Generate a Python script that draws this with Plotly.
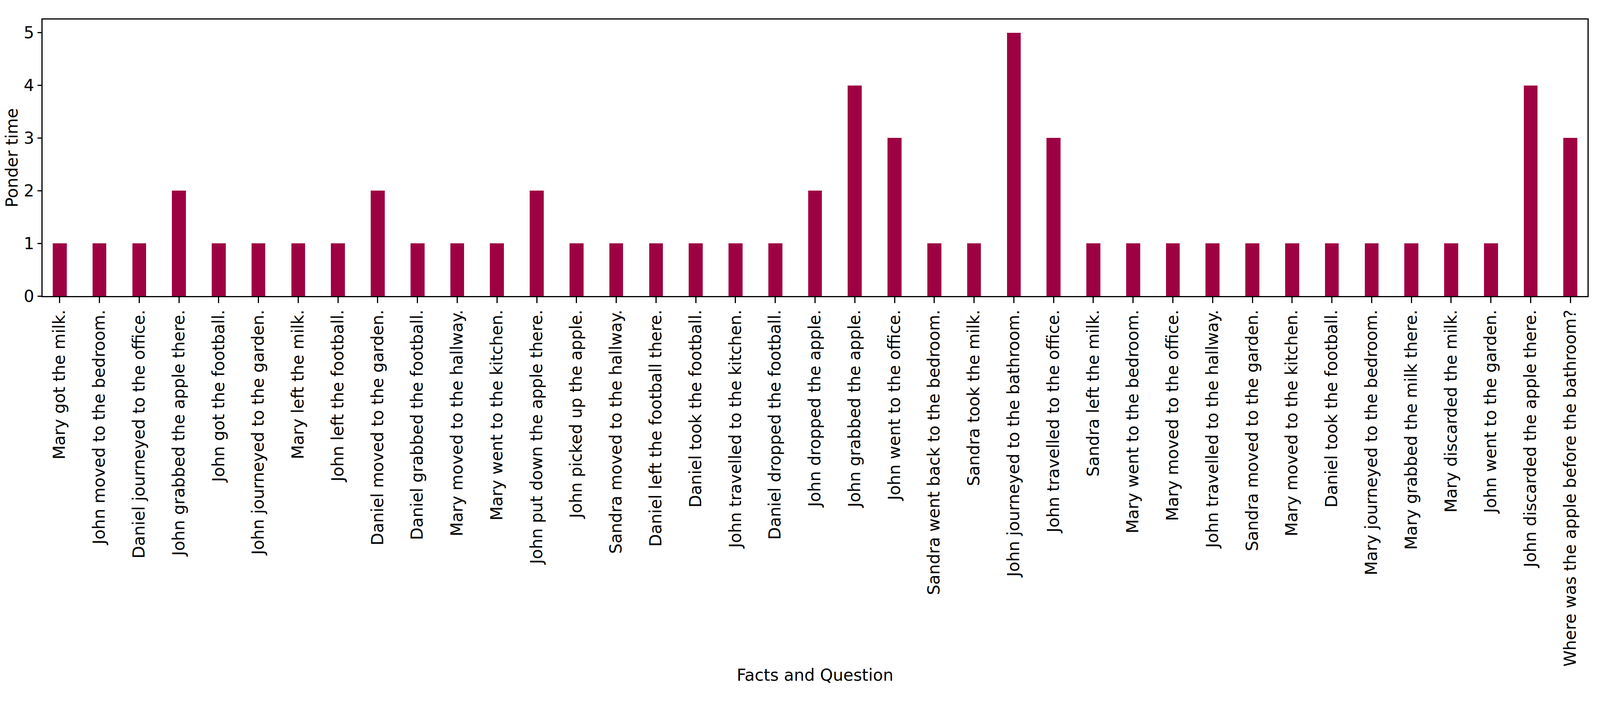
import plotly.graph_objects as go

facts = [
    "Mary got the milk.",
    "John moved to the bedroom.",
    "Daniel journeyed to the office.",
    "John grabbed the apple there.",
    "John got the football.",
    "John journeyed to the garden.",
    "Mary left the milk.",
    "John left the football.",
    "Daniel moved to the garden.",
    "Daniel grabbed the football.",
    "Mary moved to the hallway.",
    "Mary went to the kitchen.",
    "John put down the apple there.",
    "John picked up the apple.",
    "Sandra moved to the hallway.",
    "Daniel left the football there.",
    "Daniel took the football.",
    "John travelled to the kitchen.",
    "Daniel dropped the football.",
    "John dropped the apple.",
    "John grabbed the apple.",
    "John went to the office.",
    "Sandra went back to the bedroom.",
    "Sandra took the milk.",
    "John journeyed to the bathroom.",
    "John travelled to the office.",
    "Sandra left the milk.",
    "Mary went to the bedroom.",
    "Mary moved to the office.",
    "John travelled to the hallway.",
    "Sandra moved to the garden.",
    "Mary moved to the kitchen.",
    "Daniel took the football.",
    "Mary journeyed to the bedroom.",
    "Mary grabbed the milk there.",
    "Mary discarded the milk.",
    "John went to the garden.",
    "John discarded the apple there.",
    "Where was the apple before the bathroom?",
]

ponder_time = [1, 1, 1, 2, 1, 1, 1, 1, 2, 1, 1, 1, 2, 1, 1, 1, 1, 1, 1, 2,
               4, 3, 1, 1, 5, 3, 1, 1, 1, 1, 1, 1, 1, 1, 1, 1, 1, 4, 3]

y_ticks = [0, 1, 2, 3, 4, 5]

positions = list(range(len(facts)))

# The browser viewport is 4096 px wide (1800 tall); lay the chart out to fill it.
W, H = 4096, 1800
sx = W / 6000.0
left = round(159 * sx)

fig = go.Figure()
fig.add_trace(go.Bar(
    x=positions,
    y=ponder_time,
    width=0.35,
    marker=dict(color="#9e0142", line=dict(width=0)),
))

font = dict(family="DejaVu Sans", size=42, color="black")

fig.update_layout(
    width=W,
    height=H,
    margin=dict(l=left, r=round(47 * sx), t=50, b=1042, pad=0),
    paper_bgcolor="white",
    plot_bgcolor="white",
    font=font,
    showlegend=False,
    bargap=0,
)

fig.update_xaxes(
    range=[-0.43, len(facts) - 1 + 0.43],
    tickmode="array",
    tickvals=positions,
    ticktext=facts,
    tickangle=-90,
    ticks="outside",
    ticklen=15,
    tickwidth=3,
    tickcolor="black",
    showline=True,
    linewidth=3,
    linecolor="black",
    mirror=True,
    showgrid=False,
    zeroline=False,
    tickfont=font,
    title=dict(text="Facts and Question", font=font, standoff=8),
)

fig.update_yaxes(
    range=[0, 5.25],
    tickmode="array",
    tickvals=y_ticks,
    ticks="outside",
    ticklen=10,
    tickwidth=3,
    tickcolor="black",
    ticklabelstandoff=0,
    showline=True,
    linewidth=3,
    linecolor="black",
    mirror=True,
    showgrid=False,
    zeroline=False,
    tickfont=font,
)

fig.add_annotation(
    text="Ponder time",
    xref="paper", yref="paper",
    x=0, y=0.5,
    xshift=30 - left,
    xanchor="center", yanchor="middle",
    textangle=-90,
    showarrow=False,
    font=font,
)

post = """
document.body.style.margin = '0';
document.body.style.overflow = 'hidden';
"""
fig.write_html("out.html", post_script=post, config={"displayModeBar": False})
